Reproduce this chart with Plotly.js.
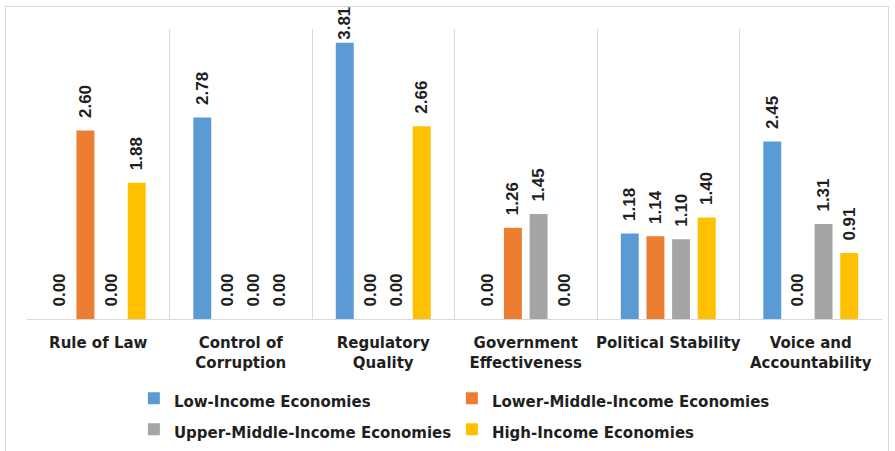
<!DOCTYPE html>
<html>
<head>
<meta charset="utf-8">
<script src="https://cdn.plot.ly/plotly-3.0.1.min.js"></script>
<style>
  html, body { margin: 0; padding: 0; background: #fff; }
  #wrap { position: relative; width: 895px; height: 451px; }
  #chart { position: absolute; left: 0; top: 0; width: 895px; height: 451px; }
  #frame { position: absolute; left: 5px; top: 6px; width: 884px; height: 460px;
           border: 1px solid #d9d9d9; pointer-events: none; box-sizing: border-box; }
</style>
</head>
<body>
<div id="wrap">
  <div id="chart"></div>
  <div id="frame"></div>
</div>
<script>
const categories = ["Rule of Law", "Control of<br>Corruption", "Regulatory<br>Quality",
                    "Government<br>Effectiveness", "Political Stability", "Voice and<br>Accountability"];
const seriesNames = ["Low-Income Economies", "Lower-Middle-Income Economies",
                     "Upper-Middle-Income Economies", "High-Income Economies"];
const lowIncome        = [0.00, 2.78, 3.81, 0.00, 1.18, 2.45];
const lowerMiddle      = [2.60, 0.00, 0.00, 1.26, 1.14, 0.00];
const upperMiddle      = [0.00, 0.00, 0.00, 1.45, 1.10, 1.31];
const highIncome       = [1.88, 0.00, 2.66, 0.00, 1.40, 0.91];
const colors = ["#5B9BD5", "#ED7D31", "#A5A5A5", "#FFC000"];

const seriesValues = [lowIncome, lowerMiddle, upperMiddle, highIncome];
const LABEL_FONT = "Liberation Sans, Arial, sans-serif";
const WIDE_FONT = "DejaVu Sans, Verdana, sans-serif";
const TXT = "#1f1f1f";
const YMAX = 4;

const traces = seriesValues.map((vals, i) => ({
  type: "bar",
  name: '<span style="font-size:15px">' + seriesNames[i] + '</span>',
  x: categories,
  y: vals,
  marker: { color: colors[i], line: { width: 0 } },
  texttemplate: vals.map(v => (v > YMAX * 0.85 ? "%{y:.2f}" : "\u00A0\u00A0%{y:.2f}")),
  textposition: "outside",
  textangle: -90,
  constraintext: "none",
  cliponaxis: false,
  textfont: { family: LABEL_FONT, size: 17, color: TXT, weight: "bold" },
  hoverinfo: "skip"
}));

const layout = {
  width: 895, height: 451,
  margin: { l: 27, r: 13, t: 29, b: 132, autoexpand: false },
  paper_bgcolor: "rgba(0,0,0,0)",
  plot_bgcolor: "rgba(0,0,0,0)",
  barmode: "group",
  bargap: 0.28,
  bargroupgap: 0.3,
  font: { family: WIDE_FONT, size: 15, color: TXT },
  xaxis: {
    type: "category",
    range: [-0.5, 5.5],
    tickson: "boundaries",
    tickangle: 0,
    showgrid: true,
    gridcolor: "#d9d9d9",
    gridwidth: 1,
    showline: true,
    linecolor: "#d9d9d9",
    linewidth: 1,
    ticks: "",
    ticklabelstandoff: 10,
    automargin: false,
    tickfont: { family: WIDE_FONT, size: 15, color: TXT, weight: "bold" },
    fixedrange: true
  },
  yaxis: {
    range: [0, YMAX],
    visible: false,
    showgrid: false,
    zeroline: false,
    fixedrange: true
  },
  showlegend: true,
  legend: {
    orientation: "h",
    x: 0.125, xanchor: "left",
    y: -0.203, yanchor: "top",
    entrywidth: 273,
    font: { family: WIDE_FONT, size: 21.5, color: TXT, weight: "bold" },
    itemclick: false, itemdoubleclick: false
  }
};

Plotly.newPlot("chart", traces, layout, { displayModeBar: false, staticPlot: true });
</script>
</body>
</html>
